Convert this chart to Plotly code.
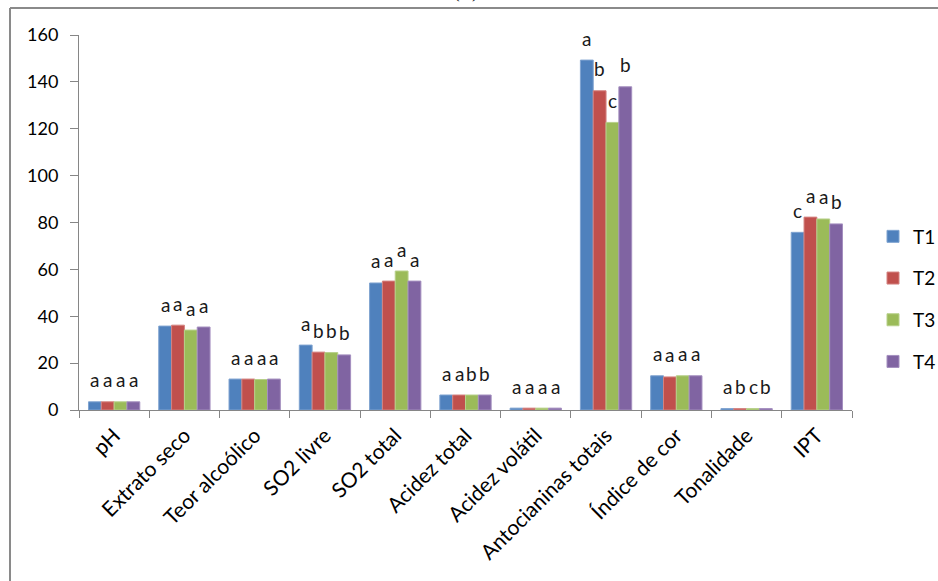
import plotly.graph_objects as go

categories = ["pH", "Extrato seco", "Teor alcoólico", "SO2 livre", "SO2 total",
              "Acidez total", "Acidez volátil", "Antocianinas totais",
              "Índice de cor", "Tonalidade", "IPT"]
series_names = ["T1", "T2", "T3", "T4"]

t1 = [3.5, 35.8, 13.2, 27.7, 54.2, 6.4, 0.8, 149.3, 14.6, 0.6, 75.8]
t2 = [3.5, 36.2, 13.2, 24.7, 55.0, 6.4, 0.8, 136.2, 14.1, 0.6, 82.3]
t3 = [3.5, 34.1, 13.0, 24.5, 59.3, 6.4, 0.8, 122.7, 14.6, 0.6, 81.5]
t4 = [3.5, 35.4, 13.2, 23.5, 55.0, 6.4, 0.8, 137.9, 14.6, 0.6, 79.4]

lt1 = ["a", "a", "a", "a", "a", "a", "a", "a", "a", "a", "c"]
lt2 = ["a", "a", "a", "b", "a", "a", "a", "b", "a", "b", "a"]
lt3 = ["a", "a", "a", "b", "a", "b", "a", "c", "a", "c", "a"]
lt4 = ["a", "a", "a", "b", "a", "b", "a", "b", "a", "b", "b"]

y_ticks = [0, 20, 40, 60, 80, 100, 120, 140, 160]

values = [t1, t2, t3, t4]
letters = [lt1, lt2, lt3, lt4]
colors = ["#4F81BD", "#C0504D", "#9BBB59", "#8064A2"]
lines = ["#7FA3D0", "#D48381", "#B7D08A", "#A48FBF"]

FONT = "Lato, Open Sans, sans-serif"

fig = go.Figure()
for i, (name, vals) in enumerate(zip(series_names, values)):
    fig.add_trace(go.Bar(
        x=categories, y=vals, name=name,
        marker=dict(color=colors[i], line=dict(color=lines[i], width=1)),
        legendgroup=name,
    ))

W, H = 938, 581
ml, mr, mt, mb = 79, 86, 35, 171
plot_w = W - ml - mr
plot_h = H - mt - mb
bargap = 0.27
cat_w = plot_w / len(categories)
bar_w = cat_w * (1 - bargap) / 4

annotations = []
for i, labs in enumerate(letters):
    for c, v, lab in zip(categories, values[i], labs):
        annotations.append(dict(
            x=c, y=v, xref="x", yref="y", text=lab, showarrow=False,
            xshift=(i - 1.5) * bar_w, yshift=22, yanchor="middle",
            font=dict(family=FONT, size=19, color="#1a1a1a"),
        ))

annotations.append(dict(
    x=0.5, y=1 + (mt - 4) / plot_h, xref="paper", yref="paper",
    text="(A)", showarrow=False, yanchor="bottom",
    font=dict(family="Liberation Serif", size=17, color="#000"),
))

frame_x = (10 - ml) / plot_w
frame_y = 1 + (mt - 8) / plot_h
shapes = [
    dict(type="line", xref="paper", yref="paper", x0=frame_x, x1=1 + mr / plot_w + 0.01,
         y0=frame_y, y1=frame_y, line=dict(color="#8a8a8a", width=2)),
    dict(type="line", xref="paper", yref="paper", x0=frame_x, x1=frame_x,
         y0=frame_y, y1=-mb / plot_h - 0.01, line=dict(color="#8a8a8a", width=2)),
]

fig.update_layout(
    width=W, height=H,
    margin=dict(l=ml, r=mr, t=mt, b=mb),
    paper_bgcolor="white", plot_bgcolor="white",
    barmode="group", bargap=bargap, bargroupgap=0,
    font=dict(family=FONT, size=16, color="#000"),
    showlegend=True,
    legend=dict(xref="container", yref="container", x=873 / W, y=(H - 299) / H,
                xanchor="left", yanchor="middle",
                font=dict(family=FONT, size=19, color="#000"),
                tracegroupgap=14, itemwidth=30),
    annotations=annotations,
    shapes=shapes,
    xaxis=dict(type="category", tickson="boundaries", ticks="outside", ticklen=7,
               tickcolor="#868686", showline=True, linecolor="#868686", linewidth=1,
               tickangle=-45, tickfont=dict(family=FONT, size=21, color="#000"),
               ticklabelstandoff=4,
               showgrid=False, automargin=False),
    yaxis=dict(range=[0, 160], tickvals=y_ticks, ticks="outside", ticklen=8,
               tickcolor="#868686", showline=True, linecolor="#868686", linewidth=1,
               showgrid=False, zeroline=False, automargin=False,
               ticklabelstandoff=8,
               tickfont=dict(family=FONT, size=18, color="#000")),
)

fig.write_html("out.html", config={"displayModeBar": False},
               post_script="document.body.style.margin='0';document.body.style.overflow='hidden';")
